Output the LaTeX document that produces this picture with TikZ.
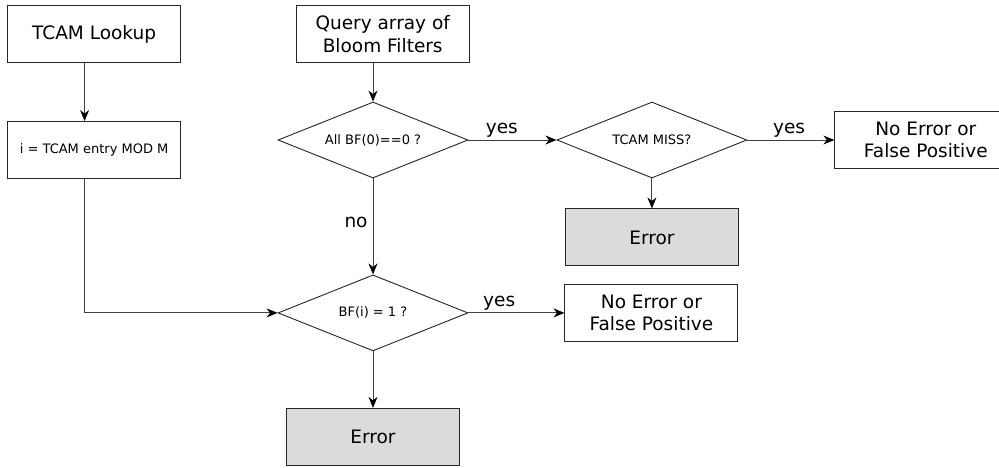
\documentclass[tikz,border=0pt]{standalone}
\usepackage{fontspec}
\setmainfont{DejaVu Sans}
\usetikzlibrary{positioning,arrows.meta,shapes.geometric}

\begin{document}
\begin{tikzpicture}[x=1pt, y=-1pt,
  box/.style={draw=black!85, line width=0.9pt, align=center, minimum width=173pt, minimum height=57pt,
              font=\fontsize{18.5}{22.5}\selectfont, inner sep=2pt},
  err/.style={box, fill=gray!28},
  dia/.style={draw=black!85, line width=0.9pt, diamond, aspect=2.5, minimum width=190pt, minimum height=76pt,
              font=\fontsize{13}{15.6}\selectfont, inner sep=1pt},
  lbl/.style={font=\fontsize{18.5}{22.5}\selectfont, inner sep=2pt},
  arr/.style={-{Stealth[length=11pt, width=9pt, inset=3.5pt, black]}, draw=black!75, line width=0.9pt}]
\useasboundingbox (0,0) rectangle (999,467);
% bloom filter checks
\node[dia] (all) at (373,140) {All BF(0)==0 ?};
\node[box, above=38.5pt of all, xshift=9.7pt] (qry) {Query array of\\Bloom Filters};
\node[dia, right=88pt of all] (miss) {TCAM MISS?};
\node[box, right=87pt of miss, minimum width=182pt] (okA) {No Error or\\False Positive};
\node[err, below=30pt of miss] (errA) {Error};
\node[dia, below=96pt of all] (bfi) {BF(i) = 1 ?};
\node[box, right=96pt of bfi] (okB) {No Error or\\False Positive};
\node[err, below=56.5pt of bfi] (errB) {Error};
% tcam side
\node[box, left=114.7pt of qry] (tcam) {TCAM Lookup};
\node[box, below=58pt of tcam, font=\fontsize{13}{15.6}\selectfont] (mod) {i = TCAM entry MOD M};
\draw[arr] ([xshift=-9.5pt]tcam.south) -- ([xshift=-9.5pt]mod.north);
\draw[arr] ([xshift=-9.5pt]mod.south) |- (bfi.west);
\draw[arr] (all.north |- qry.south) -- (all);
\draw[arr] (all) -- node[lbl, above, pos=0.38]{yes} (miss);
\draw[arr] (miss) -- node[lbl, above, pos=0.48]{yes} (okA);
\draw[arr] (miss) -- (errA);
\draw[arr] (all) -- node[lbl, left, pos=0.46, inner sep=5pt]{no} (bfi);
\draw[arr] (bfi) -- node[lbl, above, pos=0.32]{yes} (okB);
\draw[arr] (bfi) -- (errB);
\end{tikzpicture}
\end{document}
